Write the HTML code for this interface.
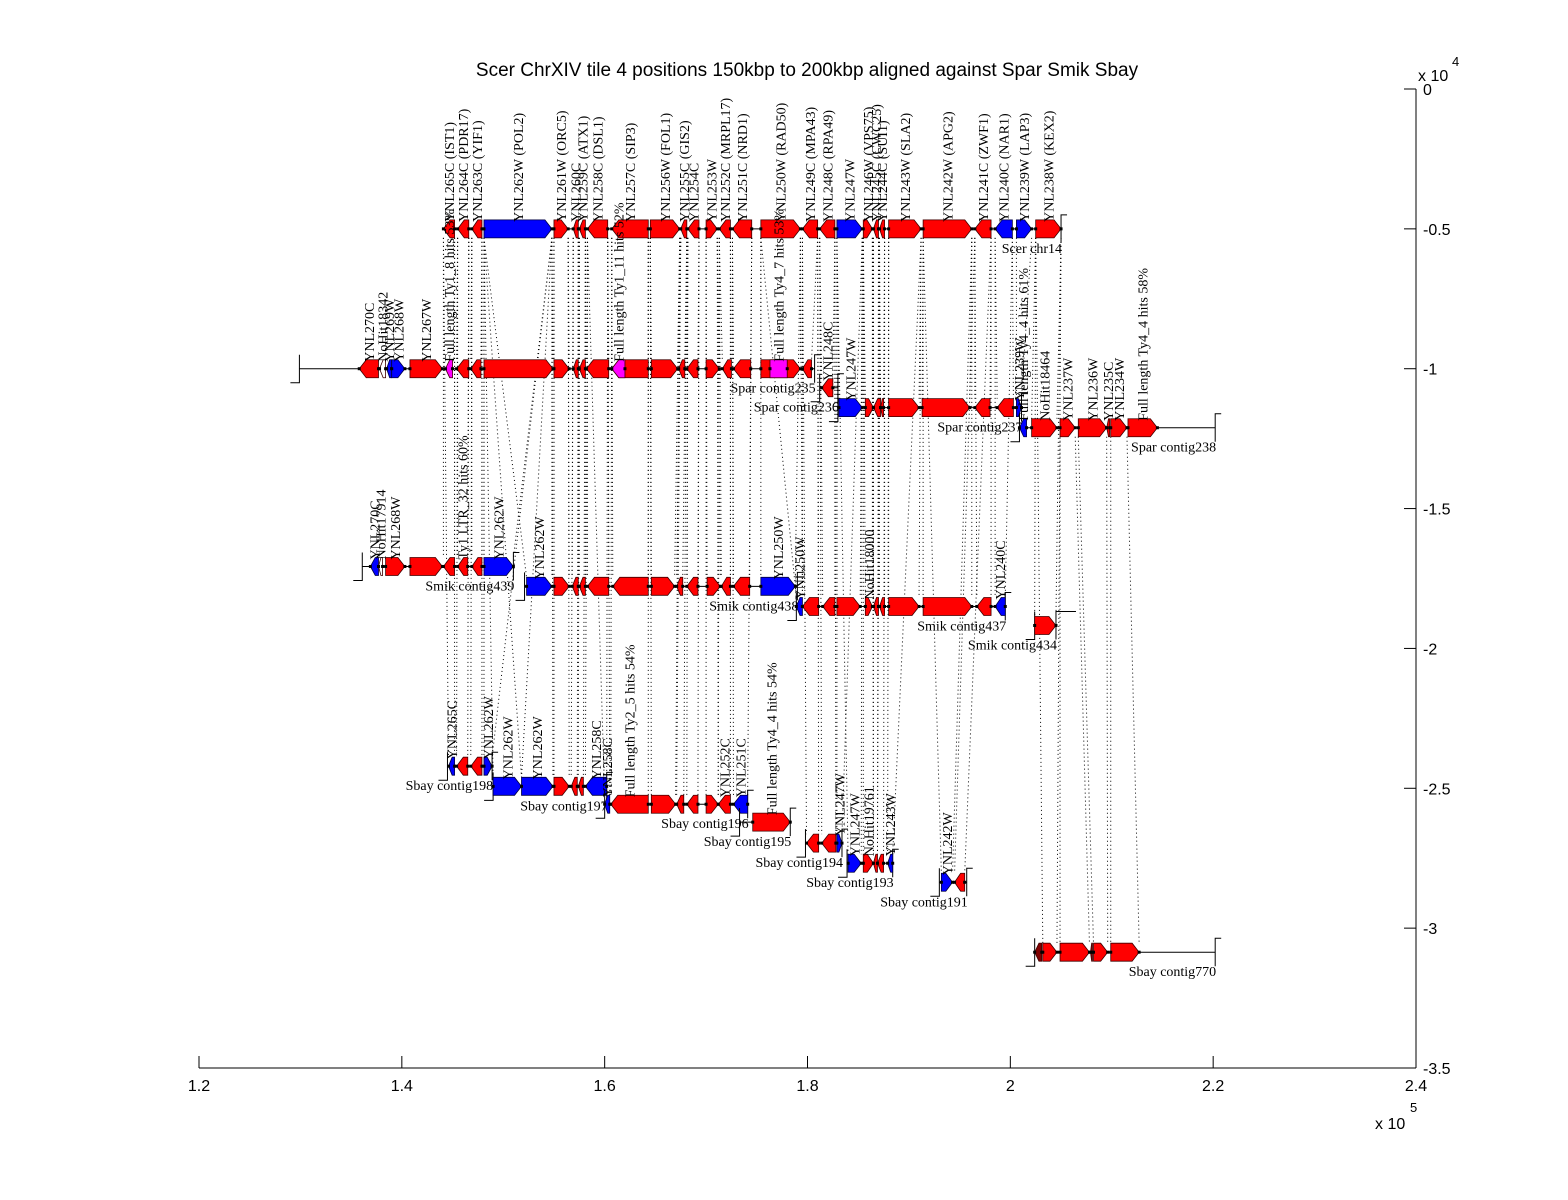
<!DOCTYPE html>
<html><head><meta charset="utf-8"><style>
html,body{margin:0;padding:0;background:#fff;}
svg{display:block;}
.ax{font-family:"Liberation Sans",sans-serif;font-size:16px;fill:#000;}
.gl{font-family:"Liberation Serif",serif;font-size:14px;fill:#000;}
</style></head><body>
<svg id="chart" width="1568" height="1200" viewBox="0 0 1568 1200" xmlns="http://www.w3.org/2000/svg">
<rect x="0" y="0" width="1568" height="1200" fill="#fff"/>
<g id="links"></g>
<g id="tracks"></g>
<g id="axes"></g>
<text class="ax" x="807" y="76" text-anchor="middle" style="font-size:19px">Scer ChrXIV tile 4 positions 150kbp to 200kbp aligned against Spar Smik Sbay</text>
</svg>
<script>
// ---- data (x in kbp, y in axis units) ----
const xTicks = [120, 140, 160, 180, 200, 220, 240];
const xTickLabels = ["1.2", "1.4", "1.6", "1.8", "2", "2.2", "2.4"];
const yTicks = [0, -5000, -10000, -15000, -20000, -25000, -30000, -35000];
const yTickLabels = ["0", "-0.5", "-1", "-1.5", "-2", "-2.5", "-3", "-3.5"];
const trackNames = ["Scer chr14","Spar contig235","Spar contig236","Spar contig237","Spar contig238","Smik contig439","Smik contig438","Smik contig437","Smik contig434","Sbay contig198","Sbay contig197","Sbay contig196","Sbay contig195","Sbay contig194","Sbay contig193","Sbay contig191","Sbay contig770"];
const trackY = [-5000,-10000,-10680,-11390,-12110,-17070,-17780,-18500,-19180,-24210,-24930,-25570,-26210,-26960,-27680,-28360,-30860];
const trackStart = [144.1,129.9,181.2,183.0,200.9,136.1,152.1,178.9,202.4,144.5,149.0,160.0,173.3,179.8,183.9,193.0,202.4];
const trackEnd = [205.0,180.7,183.0,201.1,220.2,151.0,179.0,199.5,204.5,148.9,160.2,174.1,178.3,183.4,188.4,195.7,220.2];
// genes: [start, end, strand, colour, label, match]
const genes0 = [[144.1,145.2,-1,'r','YNL265C (IST1)'],[145.5,146.6,-1,'r','YNL264C (PDR17)'],[146.9,147.9,-1,'r','YNL263C (YIF1)'],[148.1,154.8,1,'b','YNL262W (POL2)'],[155.0,156.4,1,'r','YNL261W (ORC5)'],[156.9,157.4,-1,'r','YNL260C'],[157.5,158.1,-1,'r','YNL259C (ATX1)'],[158.3,160.3,-1,'r','YNL258C (DSL1)'],[160.7,164.3,-1,'r','YNL257C (SIP3)'],[164.5,167.4,1,'r','YNL256W (FOL1)'],[167.5,168.1,-1,'r','YNL255C (GIS2)'],[168.2,169.3,-1,'r','YNL254C'],[170.0,171.1,1,'r','YNL253W'],[171.3,172.4,-1,'r','YNL252C (MRPL17)'],[172.6,174.5,-1,'r','YNL251C (NRD1)'],[175.4,179.3,1,'r','YNL250W (RAD50)'],[179.5,181.0,-1,'r','YNL249C (MPA43)'],[181.2,182.7,-1,'r','YNL248C (RPA49)'],[182.9,185.4,1,'b','YNL247W'],[185.5,186.4,1,'r','YNL246W (VPS75)'],[186.5,187.0,-1,'r','YNL245C (CWC25)'],[187.1,187.6,-1,'r','YNL244C (SUI1)'],[188.0,191.2,1,'r','YNL243W (SLA2)'],[191.4,196.2,1,'r','YNL242W (APG2)'],[196.5,198.1,-1,'r','YNL241C (ZWF1)'],[198.5,200.2,-1,'b','YNL240C (NAR1)'],[200.6,202.1,1,'b','YNL239W (LAP3)'],[202.5,205.0,1,'r','YNL238W (KEX2)']];
const genes1 = [[135.8,137.7,-1,'r','YNL270C'],[137.8,138.4,-1,'w','NoHit18342'],[138.5,139.0,-1,'b','YNL269W'],[139.0,140.3,1,'b','YNL268W'],[140.8,144.0,1,'r','YNL267W'],[144.3,145.0,-1,'m','Full length Ty1_8 hits 53%'],[145.4,146.6,-1,'r','','YNL264C'],[146.8,147.8,-1,'r','','YNL263C'],[148.1,154.9,1,'r','','YNL262W'],[155.0,156.5,1,'r','','YNL261W'],[156.9,157.4,-1,'r','','YNL260C'],[157.5,158.1,-1,'r','','YNL259C'],[158.2,160.4,-1,'r','','YNL258C'],[160.7,164.3,-1,'r','','YNL257C'],[160.7,162.0,-1,'m','Full length Ty1_11 hits 52%'],[164.6,167.2,1,'r','','YNL256W'],[167.3,167.9,-1,'r','','YNL255C'],[168.1,169.2,-1,'r','','YNL254C'],[170.0,171.3,1,'r','','YNL253W'],[171.6,172.5,-1,'r','','YNL252C'],[172.7,174.4,-1,'r','','YNL251C'],[175.4,179.3,1,'r','','YNL250W'],[176.3,178.0,0,'m','Full length Ty4_7 hits 53%'],[179.5,180.4,-1,'r','','YNL249C']];
const genes2 = [[181.4,182.5,-1,'r','YNL248C','YNL248C']];
const genes3 = [[183.1,185.4,1,'b','YNL247W','YNL247W'],[185.7,186.5,1,'r','','YNL246W'],[186.5,187.2,-1,'r','','YNL245C'],[187.2,187.5,-1,'r','','YNL244C'],[188.0,191.0,1,'r','','YNL243W'],[191.3,196.0,1,'r','','YNL242W'],[196.5,198.0,-1,'r','','YNL241C'],[198.7,200.3,-1,'r','','YNL240C'],[200.6,201.1,1,'b','YNL239W','YNL239W']];
const genes4 = [[200.9,201.6,-1,'b','Full length Ty4_4 hits 61%'],[202.1,204.6,1,'r','NoHit18464','YNL238W'],[204.9,206.4,1,'r','YNL237W'],[206.7,209.5,1,'r','YNL236W'],[209.5,209.8,-1,'r','YNL235C'],[209.9,211.5,1,'r','YNL234W'],[211.6,214.5,1,'r','Full length Ty4_4 hits 58%']];
const genes5 = [[136.9,137.7,-1,'b','YNL270C'],[137.7,138.1,-1,'w','NoHit17914'],[138.4,140.3,1,'r','YNL268W'],[140.8,144.0,1,'r',''],[144.1,145.2,-1,'r','','YNL265C'],[145.5,146.5,-1,'r','Ty1 LTR_32 hits 60%','YNL264C'],[146.9,147.9,-1,'r','','YNL263C'],[148.1,151.0,1,'b','YNL262W','YNL262W']];
const genes6 = [[152.3,154.8,1,'b','YNL262W','YNL262W'],[155.0,156.5,1,'r','','YNL261W'],[156.8,157.4,-1,'r','','YNL260C'],[157.5,158.1,-1,'r','','YNL259C'],[158.3,160.4,-1,'r','','YNL258C'],[160.8,164.3,-1,'r','','YNL257C'],[164.6,166.9,1,'r','','YNL256W'],[167.1,167.7,-1,'r','','YNL255C'],[168.1,169.2,-1,'r','','YNL254C'],[170.1,171.4,1,'r','','YNL253W'],[171.5,172.4,-1,'r','','YNL252C'],[172.7,174.3,-1,'r','','YNL251C'],[175.4,178.8,1,'b','YNL250W','YNL250W']];
const genes7 = [[178.9,179.5,-1,'b','YNL250W','YNL250W'],[179.5,181.1,-1,'r','','YNL249C'],[181.5,182.7,-1,'r','','YNL248C'],[182.9,185.2,1,'r','','YNL247W'],[185.7,186.4,1,'r','NoHit18000','YNL246W'],[186.5,187.0,-1,'r','','YNL245C'],[187.1,187.6,-1,'r','','YNL244C'],[188.0,191.0,1,'r','','YNL243W'],[191.4,196.2,1,'r','','YNL242W'],[196.7,198.1,-1,'r','','YNL241C'],[198.5,199.5,-1,'b','YNL240C','YNL240C']];
const genes8 = [[202.4,204.5,1,'r','','YNL238W']];
const genes9 = [[144.6,145.2,-1,'b','YNL265C','YNL265C'],[145.4,146.5,-1,'r','','YNL264C'],[146.8,147.9,-1,'r','','YNL263C'],[148.1,148.9,1,'b','YNL262W','YNL262W']];
const genes10 = [[149.0,151.8,1,'b','YNL262W','YNL262W'],[151.8,154.9,1,'b','YNL262W','YNL262W'],[155.0,156.5,1,'r','','YNL261W'],[156.7,157.3,-1,'r','','YNL260C'],[157.4,157.9,-1,'r','','YNL259C'],[158.1,160.2,-1,'b','YNL258C','YNL258C']];
const genes11 = [[160.0,160.5,-1,'b','YNL258C','YNL258C'],[160.6,164.3,-1,'r','Full length Ty2_5 hits 54%','YNL257C'],[164.6,167.0,1,'r','','YNL256W'],[167.1,167.8,-1,'r','','YNL255C'],[168.1,169.2,-1,'r','','YNL254C'],[170.0,171.2,1,'r','','YNL253W'],[171.2,172.4,-1,'r','YNL252C','YNL252C'],[172.7,174.1,-1,'b','YNL251C','YNL251C']];
const genes12 = [[174.6,178.3,1,'r','Full length Ty4_4 hits 54%']];
const genes13 = [[179.9,181.1,-1,'r','','YNL249C'],[181.4,182.8,-1,'r','','YNL248C'],[182.9,183.4,1,'b','YNL247W','YNL247W']];
const genes14 = [[184.0,185.3,1,'b','YNL247W','YNL247W'],[185.5,186.5,1,'r','NoHit19761','YNL246W'],[186.5,186.9,-1,'r','','YNL245C'],[186.9,187.5,-1,'r','','YNL244C'],[187.9,188.4,-1,'b','YNL243W','YNL243W']];
const genes15 = [[193.2,194.3,1,'b','YNL242W','YNL242W'],[194.5,195.5,-1,'r','','YNL241C']];
const genes16 = [[202.4,203.1,-1,'d',''],[203.2,204.6,1,'r','','YNL238W'],[204.9,207.8,1,'r','','YNL237W'],[207.9,208.1,-1,'d',''],[208.2,209.6,1,'r','','YNL236W'],[209.9,212.7,1,'r','','YNL234W']];
const trackGenes = [genes0,genes1,genes2,genes3,genes4,genes5,genes6,genes7,genes8,genes9,genes10,genes11,genes12,genes13,genes14,genes15,genes16];

// ---- scales ----
const X0 = 199, X1 = 1416, Y0 = 89, Y1 = 1068;
function sx(k) { return X0 + (k - 120) / 120 * (X1 - X0); }
function sy(v) { return Y0 + (0 - v) / 35000 * (Y1 - Y0); }
const NS = 'http://www.w3.org/2000/svg';
function mk(tag, attrs, parent) {
  const e = document.createElementNS(NS, tag);
  for (const k in attrs) e.setAttribute(k, attrs[k]);
  parent.appendChild(e);
  return e;
}
const fills = { r: '#ff0000', b: '#0000ff', m: '#ff00ff', w: '#ffffff', d: '#800000' };
const linksG = document.getElementById('links');
const tracksG = document.getElementById('tracks');
const axesG = document.getElementById('axes');
const H = 9;

function findMatch(key, ti) {
  for (let t = 0; t < ti; t++) {
    for (const g of trackGenes[t]) {
      if (g[4] && (g[4] === key || g[4].split(' ')[0] === key)) return [g, t];
    }
  }
  return null;
}

trackGenes.forEach(function (genes, ti) {
  const y = sy(trackY[ti]);
  const g = mk('g', {}, tracksG);
  
  
  const xs = sx(trackStart[ti]), xe = sx(trackEnd[ti]);
  const ln = mk('line', { x1: xs, y1: y, x2: xe, y2: y, stroke: '#000', 'stroke-width': 1 }, g);
  
  
  if (ti > 0) {
    const b1 = mk('path', { d: 'M' + xs + ' ' + (y - 14) + 'V' + (y + 14) + 'H' + (xs - 9), fill: 'none', stroke: '#000' }, g);
    
    
  }
  const b2 = mk('path', { d: 'M' + xe + ' ' + (y + 14) + 'V' + (y - 14) + 'H' + (xe + (ti === 8 ? 20 : 6)), fill: 'none', stroke: '#000' }, g);
  
  
  const tl = mk('text', { x: xe + 1, y: y + 24, 'text-anchor': 'end', class: 'gl' }, g);
  tl.textContent = trackNames[ti];
  
  

  genes.forEach(function (gn) {
    const a = sx(gn[0]), b = sx(gn[1]);
    const len = b - a, h = Math.min(7, len * 0.6);
    let d;
    if (gn[2] > 0) d = 'M' + a + ' ' + (y - H) + 'L' + (b - h) + ' ' + (y - H) + 'L' + b + ' ' + y + 'L' + (b - h) + ' ' + (y + H) + 'L' + a + ' ' + (y + H) + 'Z';
    else if (gn[2] < 0) d = 'M' + b + ' ' + (y - H) + 'L' + (a + h) + ' ' + (y - H) + 'L' + a + ' ' + y + 'L' + (a + h) + ' ' + (y + H) + 'L' + b + ' ' + (y + H) + 'Z';
    else d = 'M' + a + ' ' + (y - H) + 'H' + b + 'V' + (y + H) + 'H' + a + 'Z';
    const p = mk('path', { d: d, fill: fills[gn[3]], stroke: gn[3] === 'b' ? '#000040' : '#400000', 'stroke-width': 0.8 }, g);
    
    
    mk('rect', { x: a - 1.5, y: y - 1.5, width: 3, height: 3, fill: '#000' }, g);
    mk('rect', { x: b - 1.5, y: y - 1.5, width: 3, height: 3, fill: '#000' }, g);
    if (gn[4]) {
      const cx = (a + b) / 2 + 5, ty = y - 7;
      const t = mk('text', { x: cx, y: ty, class: 'gl', transform: 'rotate(-90 ' + cx + ' ' + ty + ')' }, g);
      t.textContent = gn[4];
      
      
    }
    if (ti > 0 && gn[5]) {
      const m = findMatch(gn[5], ti);
      if (m) {
        const my = sy(trackY[m[1]]) + H;
        [[m[0][0], gn[0]], [m[0][1], gn[1]]].forEach(function (pr) {
          const l = mk('line', { x1: sx(pr[0]), y1: my, x2: sx(pr[1]), y2: y - H, stroke: '#000', 'stroke-width': 1, 'stroke-dasharray': '1,3' }, linksG);
          
          
        });
      }
    }
  });
});

// ---- axes ----
const xa = mk('line', { x1: X0, y1: Y1, x2: X1, y2: Y1, stroke: '#000' }, axesG);


const ya = mk('line', { x1: X1, y1: Y0, x2: X1, y2: Y1, stroke: '#000' }, axesG);


xTicks.forEach(function (v, i) {
  const x = sx(v);
  mk('line', { x1: x, y1: Y1, x2: x, y2: Y1 - 12, stroke: '#000' }, axesG);
  const t = mk('text', { x: x, y: Y1 + 23, 'text-anchor': 'middle', class: 'ax' }, axesG);
  t.textContent = xTickLabels[i];
  
  
});
yTicks.forEach(function (v, i) {
  const y = sy(v);
  mk('line', { x1: X1, y1: y, x2: X1 - 12, y2: y, stroke: '#000' }, axesG);
  const t = mk('text', { x: X1 + 7, y: y + 6, class: 'ax' }, axesG);
  t.textContent = yTickLabels[i];
  
  
});
const xe = mk('text', { x: 1375, y: 1129, class: 'ax' }, axesG);
xe.textContent = 'x 10';


const s5 = mk('text', { x: 1410, y: 1112, class: 'ax', style: 'font-size:13px' }, axesG);
s5.textContent = '5';
const ye = mk('text', { x: 1418, y: 81, class: 'ax' }, axesG);
ye.textContent = 'x 10';


const s4 = mk('text', { x: 1452, y: 66, class: 'ax', style: 'font-size:13px' }, axesG);
s4.textContent = '4';
</script>
</body></html>
